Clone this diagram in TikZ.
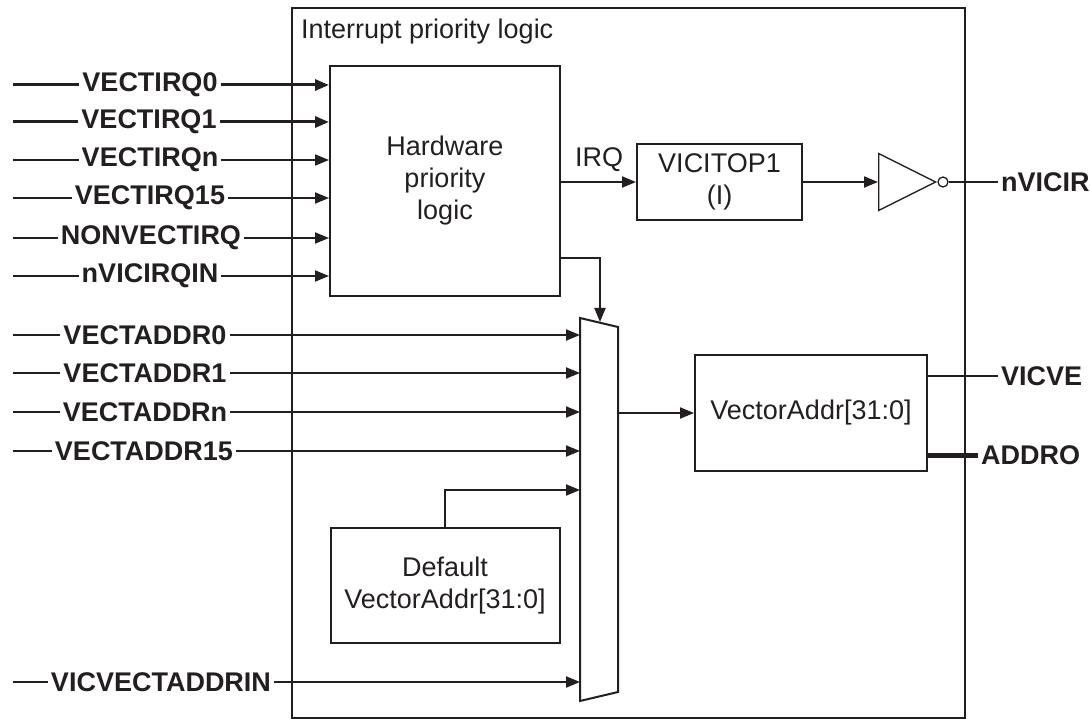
\documentclass[tikz,border=0pt]{standalone}
\usepackage{fontspec}
\setmainfont{Liberation Sans}
\usetikzlibrary{arrows.meta,shapes.geometric}
\definecolor{ink}{HTML}{231F20}

\begin{document}
\begin{tikzpicture}[x=1pt, y=-1pt, color=ink,
  block/.style={rectangle, draw, line width=2pt, inner sep=0pt, align=center, font=\fontsize{27}{32}\selectfont},
  sig/.style={inner sep=3pt, font=\fontsize{27}{30}\selectfont\bfseries},
  txt/.style={inner sep=0pt, font=\fontsize{27}{32}\selectfont},
  wire/.style={-{Triangle[length=14pt,width=11pt]}, line width=2pt},
  plain/.style={line width=2pt}
]
  \useasboundingbox (0,0) rectangle (1090,719);
  \clip (0,0) rectangle (1090,719);

  % outer frame
  \draw[line width=2.5pt] (292,8) rectangle (965,718);
  \node[txt, anchor=west] (ttl) at (301,32) {Interrupt priority logic};

  % blocks
  \node[block, minimum width=230, minimum height=230] (hpl) at (445,181) {Hardware\\priority\\logic};
  \node[block, minimum width=165, minimum height=76] (top) at (719.5,182) {VICITOP1\\(I)};
  \node[block, minimum width=232, minimum height=116] (vaddr) at (811,413) {VectorAddr[31:0]};
  \node[block, minimum width=229, minimum height=115] (dflt) at (445,585.5) {Default\\VectorAddr[31:0]};
  \node[isosceles triangle, isosceles triangle stretches, draw, line width=1.3pt, inner sep=0pt,
        minimum height=57, minimum width=57, anchor=lower side] (inv) at (878,182) {};
  \node[circle, draw, line width=1.3pt, minimum size=10, inner sep=0pt, anchor=west] (bub) at (inv.apex) {};

  % multiplexer
  \coordinate (mtl) at (580,318);
  \coordinate (mtr) at (618,327);
  \coordinate (mbr) at (618,692);
  \coordinate (mbl) at (580,701);
  \draw[line width=2pt, fill=white] (mtl) -- (mtr) -- (mbr) -- (mbl) -- cycle;
  \coordinate (msel) at (600,322);
  \coordinate (mout) at (618,413);

  % interrupt inputs
  \coordinate (a0) at (13,85);
  \coordinate (a1) at (13,122);
  \coordinate (a2) at (13,160);
  \coordinate (a3) at (13,198);
  \coordinate (a4) at (13,238);
  \coordinate (a5) at (13,276);
  \node[sig] (irq0) at (150,85) {VECTIRQ0};
  \node[sig] (irq1) at (149,122) {VECTIRQ1};
  \node[sig] (irqn) at (150,160) {VECTIRQn};
  \node[sig] (irq15) at (150,198) {VECTIRQ15};
  \node[sig] (nonv) at (151,238) {NONVECTIRQ};
  \node[sig] (nirqin) at (150,276) {nVICIRQIN};
  \draw[plain, line width=3pt] (a0) -- (irq0);
  \draw[wire, line width=3pt] (irq0) -- (irq0 -| hpl.west);
  \draw[plain, line width=3pt] (a1) -- (irq1);
  \draw[wire, line width=3pt] (irq1) -- (irq1 -| hpl.west);
  \draw[plain] (a2) -- (irqn);
  \draw[wire] (irqn) -- (irqn -| hpl.west);
  \draw[plain] (a3) -- (irq15);
  \draw[wire] (irq15) -- (irq15 -| hpl.west);
  \draw[plain] (a4) -- (nonv);
  \draw[wire] (nonv) -- (nonv -| hpl.west);
  \draw[plain] (a5) -- (nirqin);
  \draw[wire] (nirqin) -- (nirqin -| hpl.west);

  % vector address inputs
  \coordinate (b0) at (13,335);
  \coordinate (b1) at (13,373);
  \coordinate (b2) at (13,412);
  \coordinate (b3) at (13,451);
  \coordinate (b4) at (13,682);
  \node[sig] (va0) at (145,335) {VECTADDR0};
  \node[sig] (va1) at (145,373) {VECTADDR1};
  \node[sig] (van) at (145,412) {VECTADDRn};
  \node[sig] (va15) at (144,451) {VECTADDR15};
  \node[sig] (vain) at (161,682) {VICVECTADDRIN};
  \draw[plain] (b0) -- (va0);
  \draw[wire] (va0) -- (va0 -| mtl);
  \draw[plain] (b1) -- (va1);
  \draw[wire] (va1) -- (va1 -| mtl);
  \draw[plain] (b2) -- (van);
  \draw[wire] (van) -- (van -| mtl);
  \draw[plain] (b3) -- (va15);
  \draw[wire] (va15) -- (va15 -| mtl);
  \draw[plain] (b4) -- (vain);
  \draw[wire] (vain) -- (vain -| mtl);
  \coordinate (mdef) at (580,490);
  \draw[wire] (dflt.north) |- (mdef);

  % priority path
  \coordinate (hsel) at (560,258);
  \draw[wire] (hsel) -| (msel);
  \node[txt] (irq) at (599,160) {IRQ};
  \draw[wire] (hpl.east |- top.west) -- (top.west);
  \draw[wire] (top.east) -- (inv.lower side);
  \node[sig, anchor=west] (nvo) at (998,182) {nVICIR};
  \draw[plain, line width=1.5pt] (bub.east) -- (nvo.west);

  % outputs
  \draw[wire] (mout) -- (vaddr.west |- mout);
  \node[sig, anchor=west] (vout) at (998,376) {VICVE};
  \draw[plain] (vaddr.east |- vout) -- (vout.west);
  \node[sig, anchor=west] (aout) at (978,455) {ADDRO};
  \draw[plain, line width=5pt] (vaddr.east |- aout) -- (aout.west);
\end{tikzpicture}
\end{document}
